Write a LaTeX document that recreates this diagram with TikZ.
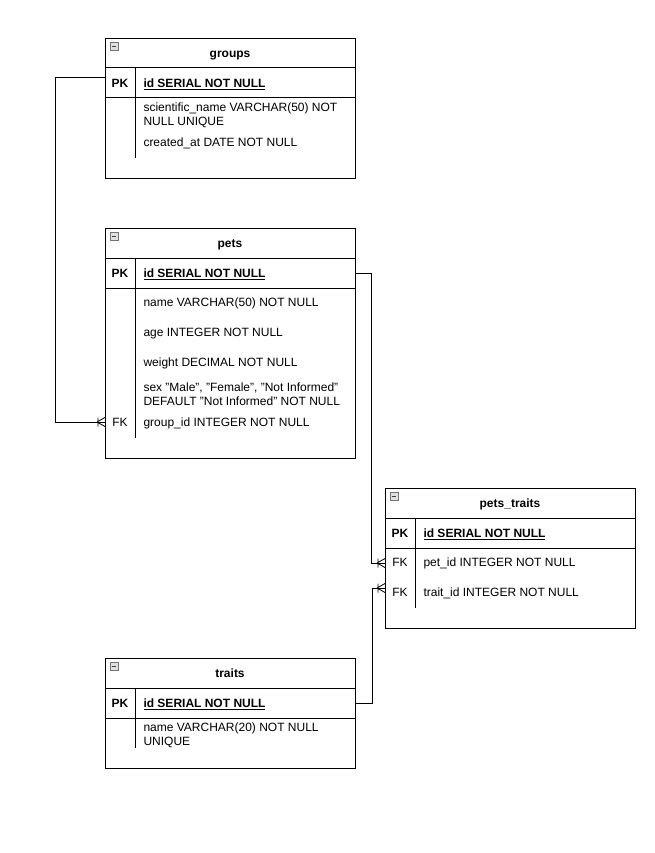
\documentclass[tikz,border=0pt]{standalone}
\usepackage{fontspec}
\setmainfont{Liberation Sans}
\newcommand{\dq}{\symbol{34}}
\begin{document}
\begin{tikzpicture}[x=1pt,y=-1pt,line width=1pt,
  tbl/.style={draw,line width=1pt,minimum width=250pt,inner sep=0pt,anchor=north west},
  ttl/.style={font=\fontsize{12}{14}\selectfont\bfseries,text height=8.6pt,text depth=0pt,inner sep=0pt,anchor=center},
  key/.style={font=\fontsize{12}{14}\selectfont\bfseries,text height=8.6pt,text depth=0pt,inner sep=0pt,anchor=center},
  fk/.style={font=\fontsize{12}{14}\selectfont,text height=8.6pt,text depth=0pt,inner sep=0pt,anchor=center},
  fld/.style={font=\fontsize{12}{14}\selectfont,text height=8.6pt,text depth=0pt,inner sep=0pt,anchor=west},
  pkfld/.style={font=\fontsize{12}{14}\selectfont\bfseries,text height=8.6pt,text depth=0pt,inner sep=0pt,anchor=west},
  sep/.style={line width=1pt},
  conn/.style={line width=1pt},
  minusicon/.pic={\draw[line width=0.5pt,draw=black!55,fill=black!12] (-4,-4) rectangle (4,4);
                  \draw[line width=0.9pt,draw=black!75] (-2.3,0) -- (2.3,0);},
  crow/.pic={\draw[line width=0.8pt] (-8,0) -- (0,-4.5) (-8,0) -- (0,4.5) (-7,-4.5) -- (-7,4.5);}
]
\useasboundingbox (0,0) rectangle (654,853);

% ---------- groups ----------
\node[tbl,minimum height=140pt] (groups) at (105,38) {};
\pic at (114,46) {minusicon};
\node[ttl] (groupsT) at (230,53) {groups};
\draw[sep] (105,68) -- (355,68) (105,98) -- (355,98) (135,68) -- (135,158);
\node[key] (gPK) at (120,83) {PK};
\node[pkfld] (gId) at (143,83) {\underline{id SERIAL NOT NULL}};
\node[fld] (gSn1) at (143,107) {scientific\_name VARCHAR(50) NOT};
\node[fld] (gSn2) at (143,121) {NULL UNIQUE};
\node[fld] (gCa) at (143,142) {created\_at DATE NOT NULL};

% ---------- pets ----------
\node[tbl,minimum height=230pt] (pets) at (105,228) {};
\pic at (114,236) {minusicon};
\node[ttl] (petsT) at (230,243) {pets};
\draw[sep] (105,258) -- (355,258) (105,288) -- (355,288) (135,258) -- (135,438);
\node[key] (pPK) at (120,273) {PK};
\node[pkfld] (pId) at (143,273) {\underline{id SERIAL NOT NULL}};
\node[fld] (pName) at (143,302) {name VARCHAR(50) NOT NULL};
\node[fld] (pAge) at (143,332) {age INTEGER NOT NULL};
\node[fld] (pW) at (143,362) {weight DECIMAL NOT NULL};
\node[fld] (pSex1) at (143,387) {sex \dq Male\dq, \dq Female\dq, \dq Not Informed\dq};
\node[fld] (pSex2) at (143,401) {DEFAULT \dq Not Informed\dq{} NOT NULL};
\node[fk] (pFK) at (120,422) {FK};
\node[fld] (pGid) at (143,422) {group\_id INTEGER NOT NULL};

% ---------- pets_traits ----------
\node[tbl,minimum height=140pt] (pt) at (385,488) {};
\pic at (394,496) {minusicon};
\node[ttl] (ptT) at (510,503) {pets\_traits};
\draw[sep] (385,518) -- (635,518) (385,548) -- (635,548) (415,518) -- (415,608);
\node[key] (ptPK) at (400,533) {PK};
\node[pkfld] (ptId) at (423,533) {\underline{id SERIAL NOT NULL}};
\node[fk] (ptFK1) at (400,562) {FK};
\node[fld] (ptPid) at (423,562) {pet\_id INTEGER NOT NULL};
\node[fk] (ptFK2) at (400,592) {FK};
\node[fld] (ptTid) at (423,592) {trait\_id INTEGER NOT NULL};

% ---------- traits ----------
\node[tbl,minimum height=110pt] (traits) at (105,658) {};
\pic at (114,666) {minusicon};
\node[ttl] (traitsT) at (230,673) {traits};
\draw[sep] (105,688) -- (355,688) (105,718) -- (355,718) (135,688) -- (135,748);
\node[key] (tPK) at (120,703) {PK};
\node[pkfld] (tId) at (143,703) {\underline{id SERIAL NOT NULL}};
\node[fld] (tN1) at (143,727) {name VARCHAR(20) NOT NULL};
\node[fld] (tN2) at (143,741) {UNIQUE};

% ---------- connection points ----------
\coordinate (cG) at (groups.west |- 0,78);
\coordinate (cPfk) at (pets.west |- 0,422);
\coordinate (cPpk) at (pets.east |- 0,273);
\coordinate (cPT1) at (pt.west |- 0,563);
\coordinate (cPT2) at (pt.west |- 0,588);
\coordinate (cT) at (traits.east |- 0,703);

% ---------- connectors ----------
\draw[conn] (cG) -- ++(-50,0) |- (cPfk);
\pic at (cPfk) {crow};
\draw[conn] (cPpk) -- ++(15,0) |- (cPT1);
\pic at (cPT1) {crow};
\draw[conn] (cT) -- ++(16,0) |- (cPT2);
\pic at (cPT2) {crow};
\end{tikzpicture}
\end{document}
